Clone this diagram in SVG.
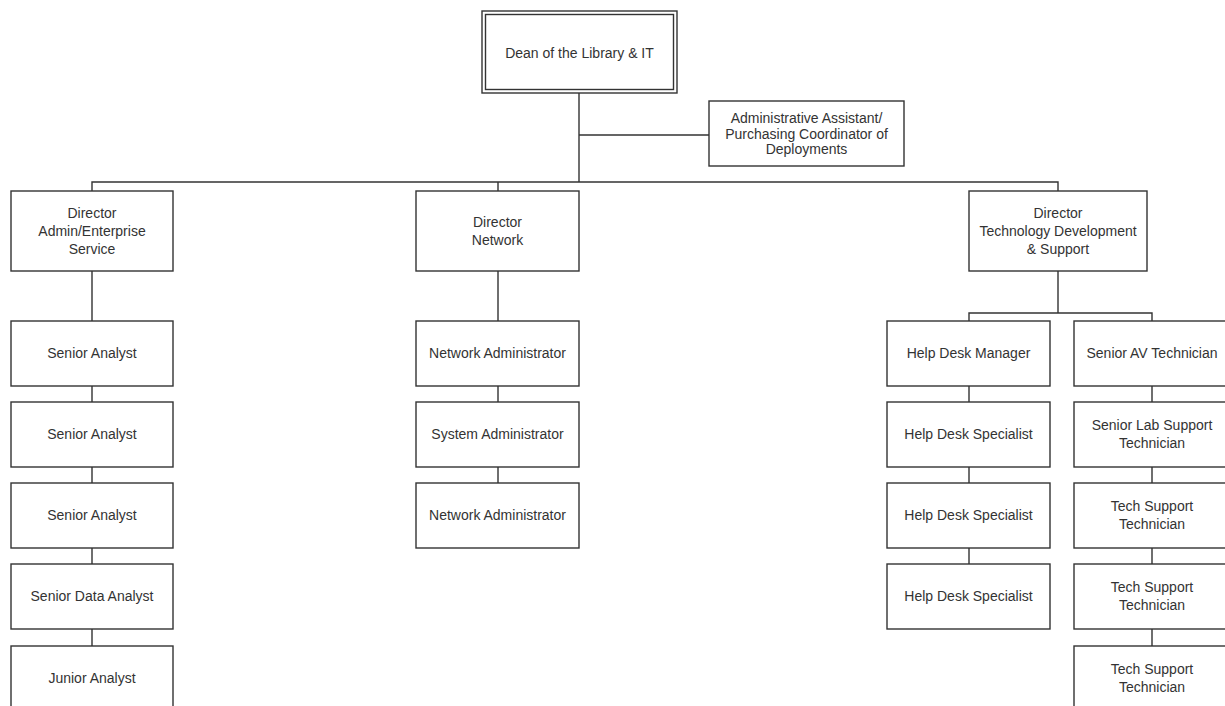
<svg xmlns="http://www.w3.org/2000/svg" width="1225" height="706" viewBox="0 0 1225 706">
<style>
.box{fill:#fff;stroke:#333;stroke-width:1.4}
.ln{fill:none;stroke:#333;stroke-width:1.4}
text{font-family:"Liberation Sans",Arial,sans-serif;font-size:14px;fill:#333;text-anchor:middle}
</style>
<rect width="1225" height="706" fill="#fff"/>
<g id="connectors" class="ln">
<path d="M579 93V182M579 135H709M92 191V182H1058V191M498 182V191"/>
<path d="M92 271V321M92 386V402M92 467V483M92 548V564M92 629V646"/>
<path d="M498 271V321M498 386V402M498 467V483"/>
<path d="M1058 271V313M969 321V313H1152V321"/>
<path d="M969 386V402M969 467V483M969 548V564"/>
<path d="M1152 386V402M1152 467V483M1152 548V564M1152 629V646"/>
</g>
<g id="dean"><rect class="box" x="482" y="11" width="195" height="82"/><rect class="box" x="485.5" y="14.5" width="188" height="75"/><text x="579.5" y="58">Dean of the Library &amp; IT</text></g>
<g id="admin-assistant"><rect class="box" x="709" y="101" width="195" height="65"/><text x="806.5" y="123">Administrative Assistant/</text><text x="806.5" y="138.5">Purchasing Coordinator of</text><text x="806.5" y="154">Deployments</text></g>
<g id="dir-admin"><rect class="box" x="11" y="191" width="162" height="80"/><text x="92" y="218">Director</text><text x="92" y="236">Admin/Enterprise</text><text x="92" y="254">Service</text></g>
<g id="dir-network"><rect class="box" x="416" y="191" width="163" height="80"/><text x="497.5" y="227">Director</text><text x="497.5" y="245">Network</text></g>
<g id="dir-tech"><rect class="box" x="969" y="191" width="178" height="80"/><text x="1058" y="218">Director</text><text x="1058" y="236">Technology Development</text><text x="1058" y="254">&amp; Support</text></g>
<g id="senior-analyst-1"><rect class="box" x="11" y="321" width="162" height="65"/><text x="92" y="358">Senior Analyst</text></g>
<g id="senior-analyst-2"><rect class="box" x="11" y="402" width="162" height="65"/><text x="92" y="439">Senior Analyst</text></g>
<g id="senior-analyst-3"><rect class="box" x="11" y="483" width="162" height="65"/><text x="92" y="520">Senior Analyst</text></g>
<g id="senior-data-analyst"><rect class="box" x="11" y="564" width="162" height="65"/><text x="92" y="601">Senior Data Analyst</text></g>
<g id="junior-analyst"><rect class="box" x="11" y="646" width="162" height="70"/><text x="92" y="683">Junior Analyst</text></g>
<g id="network-admin-1"><rect class="box" x="416" y="321" width="163" height="65"/><text x="497.5" y="358">Network Administrator</text></g>
<g id="system-admin"><rect class="box" x="416" y="402" width="163" height="65"/><text x="497.5" y="439">System Administrator</text></g>
<g id="network-admin-2"><rect class="box" x="416" y="483" width="163" height="65"/><text x="497.5" y="520">Network Administrator</text></g>
<g id="help-desk-manager"><rect class="box" x="887" y="321" width="163" height="65"/><text x="968.5" y="358">Help Desk Manager</text></g>
<g id="help-desk-specialist-1"><rect class="box" x="887" y="402" width="163" height="65"/><text x="968.5" y="439">Help Desk Specialist</text></g>
<g id="help-desk-specialist-2"><rect class="box" x="887" y="483" width="163" height="65"/><text x="968.5" y="520">Help Desk Specialist</text></g>
<g id="help-desk-specialist-3"><rect class="box" x="887" y="564" width="163" height="65"/><text x="968.5" y="601">Help Desk Specialist</text></g>
<g id="senior-av-tech"><rect class="box" x="1074" y="321" width="160" height="65"/><text x="1152" y="358">Senior AV Technician</text></g>
<g id="senior-lab-support"><rect class="box" x="1074" y="402" width="160" height="65"/><text x="1152" y="430">Senior Lab Support</text><text x="1152" y="448">Technician</text></g>
<g id="tech-support-1"><rect class="box" x="1074" y="483" width="160" height="65"/><text x="1152" y="511">Tech Support</text><text x="1152" y="529">Technician</text></g>
<g id="tech-support-2"><rect class="box" x="1074" y="564" width="160" height="65"/><text x="1152" y="592">Tech Support</text><text x="1152" y="610">Technician</text></g>
<g id="tech-support-3"><rect class="box" x="1074" y="646" width="160" height="70"/><text x="1152" y="674">Tech Support</text><text x="1152" y="692">Technician</text></g>
</svg>
